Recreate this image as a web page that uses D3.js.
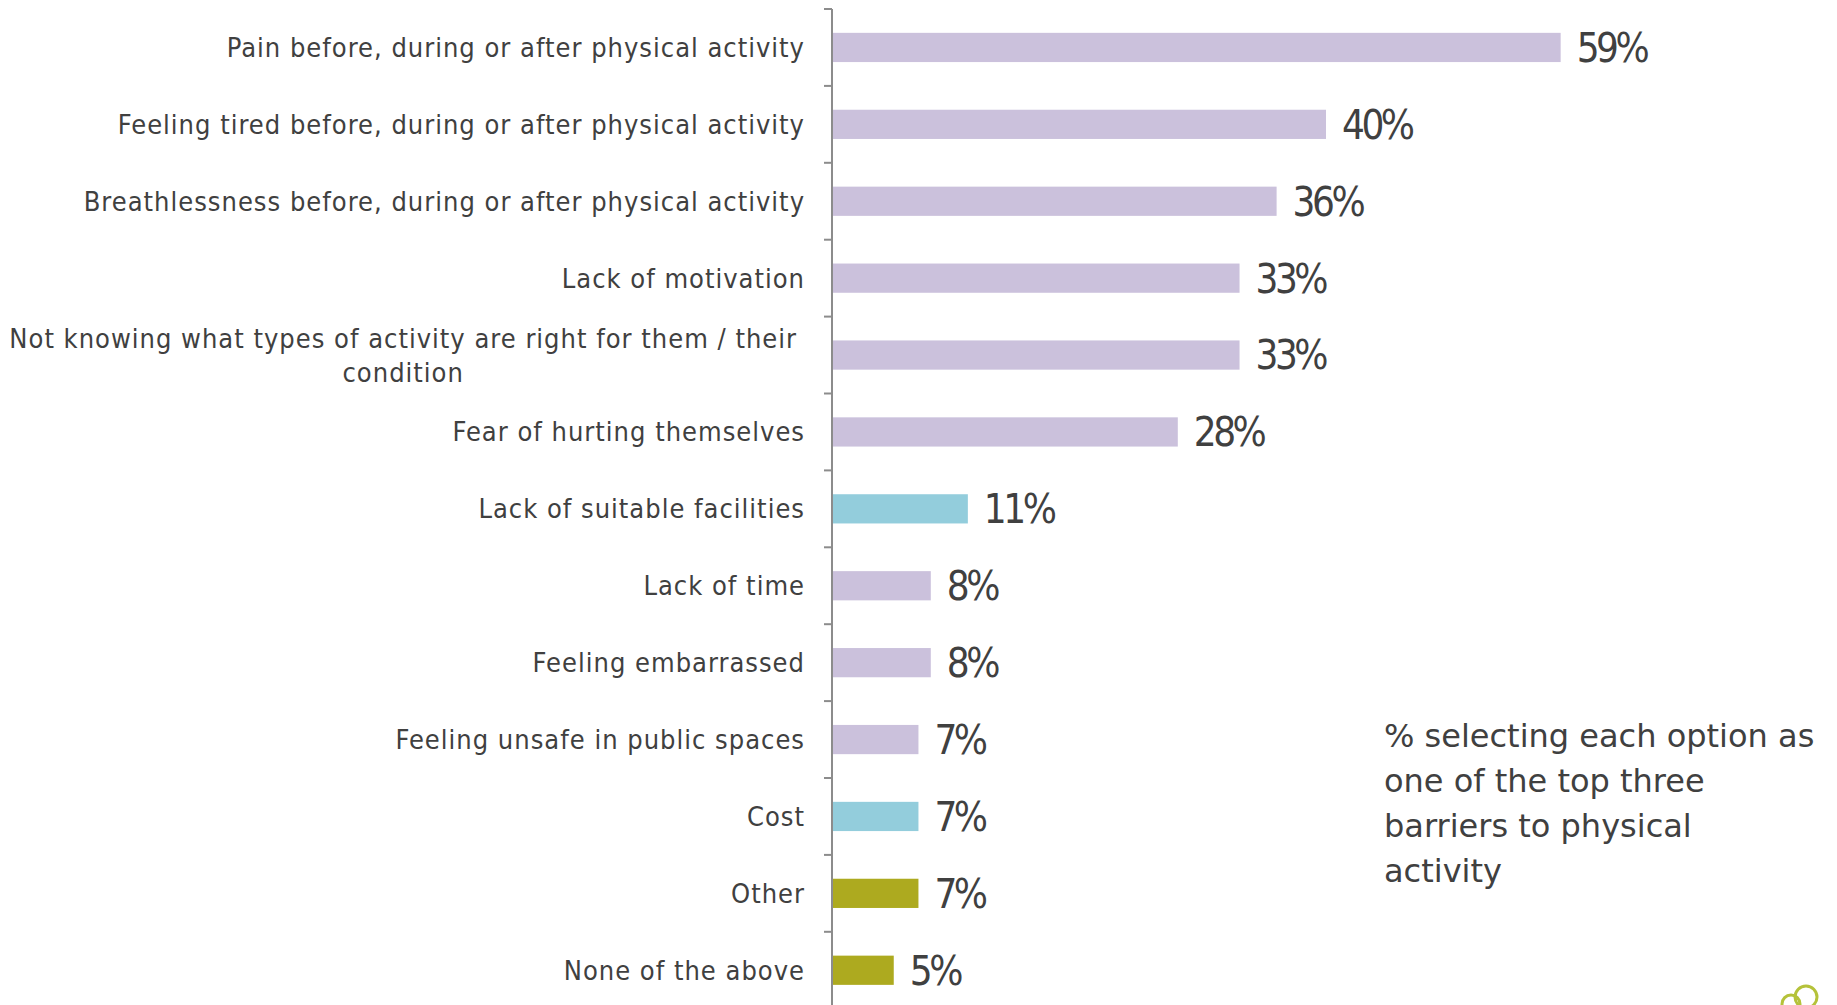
<!DOCTYPE html>
<html>
<head>
<meta charset="utf-8">
<script src="https://cdn.jsdelivr.net/npm/d3@7"></script>
<style>
  body { margin: 0; background: #fff; }
  svg { display: block; }
</style>
</head>
<body>
<div id="viz"></div>
<script>
// data
var categories = [
  "Pain before, during or after physical activity",
  "Feeling tired before, during or after physical activity",
  "Breathlessness before, during or after physical activity",
  "Lack of motivation",
  "Not knowing what types of activity are right for them / their condition",
  "Fear of hurting themselves",
  "Lack of suitable facilities",
  "Lack of time",
  "Feeling embarrassed",
  "Feeling unsafe in public spaces",
  "Cost",
  "Other",
  "None of the above"
];
var values = [59, 40, 36, 33, 33, 28, 11, 8, 8, 7, 7, 7, 5];
var groups = ["health", "health", "health", "health", "health", "health", "access", "health", "health", "health", "access", "other", "other"];
// forced line breaks for long labels
var labelLines = {
  "Not knowing what types of activity are right for them / their condition":
    ["Not knowing what types of activity are right for them / their", "condition"]
};
var note = ["% selecting each option as", "one of the top three", "barriers to physical", "activity"];

var width = 1837, height = 1005;
var axisX = 832, topY = 9, band = 76.9;

var svg = d3.select("#viz").append("svg")
  .attr("width", width)
  .attr("height", height);

var colour = d3.scaleOrdinal()
  .domain(["health", "access", "other"])
  .range(["#cbc1dc", "#93cddc", "#adaa1f"]);

var x = d3.scaleLinear().domain([0, 100]).range([axisX, axisX + 1235]);
var y = d3.scaleBand()
  .domain(categories)
  .range([topY, topY + band * categories.length])
  .paddingInner(0.62)
  .paddingOuter(0.31);

// bars
svg.selectAll("rect.bar")
  .data(categories)
  .enter()
  .append("rect")
  .attr("class", "bar")
  .attr("x", x(0))
  .attr("y", function(d) { return y(d); })
  .attr("height", y.bandwidth())
  .attr("width", function(d, i) { return x(values[i]) - x(0); })
  .attr("fill", function(d, i) { return colour(groups[i]); });

// axis with ticks between the categories
var yAxis = svg.append("g")
  .attr("transform", "translate(" + axisX + ",0)");
yAxis.append("line")
  .attr("x1", 0).attr("x2", 0)
  .attr("y1", topY).attr("y2", height)
  .attr("stroke", "#8c8c8c")
  .attr("stroke-width", 2);
yAxis.selectAll("line.tick")
  .data(d3.range(categories.length + 1))
  .enter()
  .append("line")
  .attr("class", "tick")
  .attr("x1", -8).attr("x2", 0)
  .attr("y1", function(i) { return topY + i * band; })
  .attr("y2", function(i) { return topY + i * band; })
  .attr("stroke", "#8c8c8c")
  .attr("stroke-width", 2);

// category labels
var labelFont = "'Liberation Sans Narrow', 'DejaVu Sans Condensed', 'Liberation Sans', sans-serif";
svg.selectAll("g.label")
  .data(categories)
  .enter()
  .append("g")
  .attr("class", "label")
  .each(function(d) {
    var g = d3.select(this);
    var cy = y(d) + y.bandwidth() / 2;
    var lines = labelLines[d];
    if (!lines) {
      g.append("text")
        .attr("x", axisX - 27)
        .attr("y", cy)
        .attr("dy", "0.35em")
        .attr("text-anchor", "end")
        .style("font-family", labelFont)
        .style("font-size", "27px")
        .style("letter-spacing", "1px")
        .attr("fill", "#404040")
        .text(d);
    } else {
      var t = g.selectAll("text")
        .data(lines)
        .enter()
        .append("text")
        .attr("y", function(l, j) { return cy + (j - (lines.length - 1) / 2) * 34; })
        .attr("dy", "0.35em")
        .attr("text-anchor", "middle")
        .style("font-family", labelFont)
        .style("font-size", "27px")
        .style("letter-spacing", "1px")
        .attr("fill", "#404040")
        .text(function(l) { return l; });
      var w = t.nodes()[0].getComputedTextLength();
      t.attr("x", axisX - 35 - w / 2);
    }
  });

// value labels
svg.selectAll("text.value")
  .data(categories)
  .enter()
  .append("text")
  .attr("class", "value")
  .attr("x", function(d, i) { return x(values[i]) + 16; })
  .attr("y", function(d) { return y(d) + y.bandwidth() / 2; })
  .attr("dy", "0.36em")
  .style("font-family", labelFont)
  .style("font-size", "40px")
  .style("letter-spacing", "-3.5px")
  .attr("fill", "#404040")
  .text(function(d, i) { return values[i] + "%"; });

// note
svg.append("text")
  .attr("x", 1384)
  .attr("y", 747)
  .style("font-family", "'DejaVu Sans', sans-serif")
  .style("font-size", "32px")
  .attr("fill", "#404040")
  .selectAll("tspan")
  .data(note)
  .enter()
  .append("tspan")
  .attr("x", 1384)
  .attr("dy", function(d, i) { return i ? 45 : 0; })
  .text(function(d) { return d; });

// corner logo fragment
var logo = svg.append("g").attr("fill", "none").attr("stroke", "#b5c23a").attr("stroke-width", 3);
logo.append("circle").attr("cx", 1791).attr("cy", 1004).attr("r", 9);
logo.append("circle").attr("cx", 1806).attr("cy", 997).attr("r", 11);
</script>
</body>
</html>
